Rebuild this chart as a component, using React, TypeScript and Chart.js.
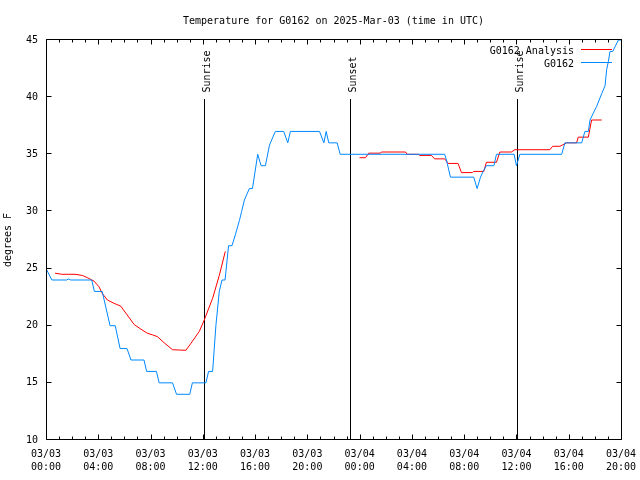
import React, { useEffect, useRef } from 'react';
import { Chart, registerables } from 'chart.js';

Chart.register(...registerables);

// ---------- data ----------
const TITLE = 'Temperature for G0162 on 2025-Mar-03 (time in UTC)';
const Y_LABEL = 'degrees F';
const START_MONTH = '03';
const START_DAY = 3;
const X_MIN = 0;
const X_MAX = 44; // hours after 03/03 00:00 UTC
const X_MAJOR_STEP = 4;
const X_MINOR_STEP = 1;
const Y_MIN = 10;
const Y_MAX = 45;
const Y_STEP = 5;

const anaLabel = 'G0162 Analysis';
const anaColor = '#ff0000';
const anaHours = [
  0.69, 1.2, 2.22, 2.78, 3.17, 3.68, 4.06, 4.32, 4.7, 5.21, 5.73, 6.11, 6.75, 7.26, 7.77,
  8.15, 8.53, 9.05, 9.68, 10.2, 10.71, 11.09, 11.73, 12.11, 12.75, 13.26, 13.72,
  18.0,
  23.99, 24.45, 24.7, 25.6, 25.66, 27.52, 27.62, 28.5, 28.59, 29.49, 29.74, 30.51, 30.77,
  31.53, 31.79, 32.63, 32.73, 33.5, 33.7, 34.47, 34.73, 35.62, 35.88, 38.56, 38.77, 39.33,
  39.84, 40.6, 40.73, 41.5, 41.75, 42.52,
];
const anaTemps = [
  24.6, 24.5, 24.5, 24.4, 24.2, 23.9, 23.4, 22.8, 22.25, 21.96, 21.7, 21.1, 20.1, 19.7, 19.33,
  19.2, 19.04, 18.5, 17.9, 17.87, 17.85, 18.46, 19.5, 20.5, 22.4, 24.4, 26.5,
  null,
  34.7, 34.7, 35.1, 35.1, 35.2, 35.2, 35.0, 35.0, 34.9, 34.9, 34.6, 34.6, 34.2,
  34.2, 33.4, 33.4, 33.5, 33.5, 34.3, 34.3, 35.2, 35.2, 35.4, 35.4, 35.7, 35.7,
  36.0, 36.0, 36.5, 36.5, 38.0, 38.0,
];

const obsLabel = 'G0162';
const obsColor = '#0088ff';
const obsHours = [
  0, 0.45, 1.6, 1.7, 1.9, 3.5, 3.7, 4.3, 4.9, 5.3, 5.67, 6.2, 6.5, 7.5, 7.7, 8.45, 8.66,
  9.68, 9.99, 11.0, 11.2, 12.24, 12.44, 12.75, 13.0, 13.26, 13.47, 13.7, 13.97, 14.23,
  14.5, 14.8, 14.97, 15.18, 15.56, 15.8, 16.2, 16.46, 16.79, 17.1, 17.55, 18.19, 18.5,
  18.7, 20.93, 21.26, 21.44, 21.64, 22.28, 22.51, 30.51, 30.64, 30.95, 32.73, 32.99,
  33.25, 33.45, 33.7, 34.27, 34.47, 35.82, 36.0, 36.26, 39.46, 39.71, 40.99, 41.24, 41.5,
  41.63, 41.88, 42.14, 42.52, 42.78, 42.9, 43.03, 43.16, 43.37, 43.54, 43.8, 44,
];
const obsTemps = [
  25, 24, 24, 24.1, 24, 24, 23, 23, 20, 20, 18, 18, 17, 17, 16, 16, 15,
  15, 14, 14, 15, 15, 16, 16, 20, 23, 24, 24, 27, 27,
  28, 29.2, 30, 31, 32, 32, 35, 34, 34, 35.8, 37, 37, 36,
  37, 37, 36, 37, 36, 36, 35, 35, 34.5, 33, 33, 32,
  33, 33.5, 34, 34, 35, 35, 34, 35, 35, 36, 36, 37, 37,
  38, 38.6, 39.2, 40.3, 41, 42.4, 43.1, 44, 44, 44.4, 45, 45,
];

const sunHours = [12.06, 23.25, 36.05];
const sunLabels = ['Sunrise', 'Sunset', 'Sunrise'];

// ---------- styling ----------
const FONT_FAMILY = '"DejaVu Sans Mono", "Liberation Mono", monospace';
const FONT = `10px ${FONT_FAMILY}`;

const pad2 = (n: number) => (n < 10 ? '0' + n : '' + n);

const gnuplotPlugin = {
  id: 'gnuplotDecor',
  beforeDraw(chart: any) {
    const ctx = chart.ctx;
    ctx.save();
    ctx.fillStyle = '#ffffff';
    ctx.fillRect(0, 0, chart.width, chart.height);
    ctx.restore();
  },
  beforeDatasetsDraw(chart: any) {
    const ctx = chart.ctx;
    const xs = chart.scales.x;
    const area = chart.chartArea;
    ctx.save();
    ctx.strokeStyle = '#000';
    ctx.lineWidth = 1;
    sunHours.forEach((h) => {
      const px = Math.round(xs.getPixelForValue(h)) + 0.5;
      ctx.beginPath();
      ctx.moveTo(px, 99);
      ctx.lineTo(px, area.bottom);
      ctx.stroke();
    });
    ctx.restore();
  },
  afterDatasetsDraw(chart: any) {
    const ctx = chart.ctx;
    const xs = chart.scales.x;
    const ys = chart.scales.y;
    const a = chart.chartArea;
    const L = Math.round(a.left) + 0.5;
    const R = Math.round(a.right) + 0.5;
    const T = Math.round(a.top) - 0.5;
    const B = Math.round(a.bottom) - 0.5;
    ctx.save();
    ctx.strokeStyle = '#000';
    ctx.lineWidth = 1;
    ctx.beginPath();
    ctx.moveTo(L, T);
    ctx.lineTo(R, T);
    ctx.lineTo(R, B);
    ctx.lineTo(L, B);
    ctx.closePath();
    ctx.stroke();
    ctx.beginPath();
    for (let h = X_MIN; h <= X_MAX; h += X_MINOR_STEP) {
      const px = Math.round(xs.getPixelForValue(h)) + 0.5;
      const len = h % X_MAJOR_STEP === 0 ? 5 : 3;
      ctx.moveTo(px, B);
      ctx.lineTo(px, B - len);
      ctx.moveTo(px, T);
      ctx.lineTo(px, T + len);
    }
    for (let v = Y_MIN; v <= Y_MAX; v += Y_STEP) {
      const py = Math.round(ys.getPixelForValue(v)) - 0.5;
      ctx.moveTo(L, py);
      ctx.lineTo(L + 5, py);
      ctx.moveTo(R, py);
      ctx.lineTo(R - 5, py);
    }
    ctx.stroke();

    ctx.fillStyle = '#000';
    ctx.font = FONT;
    ctx.textAlign = 'center';
    ctx.textBaseline = 'alphabetic';
    ctx.fillText(TITLE, (a.left + a.right) / 2, 24);
    ctx.save();
    ctx.translate(11, (a.top + a.bottom) / 2);
    ctx.rotate(-Math.PI / 2);
    ctx.textAlign = 'center';
    ctx.textBaseline = 'alphabetic';
    ctx.fillText(Y_LABEL, 0, 0);
    ctx.restore();
    sunHours.forEach((h, i) => {
      const px = Math.round(xs.getPixelForValue(h)) + 0.5;
      ctx.save();
      ctx.translate(px + 5.5, 92.5);
      ctx.rotate(-Math.PI / 2);
      ctx.textAlign = 'left';
      ctx.textBaseline = 'alphabetic';
      ctx.fillText(sunLabels[i], 0, 0);
      ctx.restore();
    });
    const items = chart.data.datasets.map((d: any) => ({ label: d.label, color: d.borderColor }));
    items.sort((p: any, q: any) => (p.label === anaLabel ? -1 : q.label === anaLabel ? 1 : 0));
    items.forEach((it: any, i: number) => {
      const base = 53.5 + i * 13;
      ctx.textAlign = 'right';
      ctx.textBaseline = 'alphabetic';
      ctx.fillStyle = '#000';
      ctx.fillText(it.label, 574, base);
      ctx.strokeStyle = it.color;
      ctx.beginPath();
      ctx.moveTo(581, base - 4);
      ctx.lineTo(612, base - 4);
      ctx.stroke();
    });
    ctx.restore();
  },
};

export default function App() {
  const canvasRef = useRef<HTMLCanvasElement | null>(null);

  useEffect(() => {
    const canvas = canvasRef.current;
    if (!canvas) return;
    const obsData = obsHours.map((h, i) => ({ x: h, y: obsTemps[i] }));
    const anaData = anaHours.map((h, i) => ({ x: h, y: anaTemps[i] }));
    const chart = new Chart(canvas, {
      type: 'line',
      data: {
        datasets: [
          {
            label: obsLabel,
            data: obsData as any,
            borderColor: obsColor,
            backgroundColor: obsColor,
            borderWidth: 1,
            pointRadius: 0,
            tension: 0,
            order: 0,
          },
          {
            label: anaLabel,
            data: anaData as any,
            borderColor: anaColor,
            backgroundColor: anaColor,
            borderWidth: 1,
            pointRadius: 0,
            tension: 0,
            spanGaps: false,
            order: 1,
          },
        ],
      },
      options: {
        responsive: false,
        animation: false,
        devicePixelRatio: 1,
        layout: { padding: { left: 0, top: 40, right: 19, bottom: 0 } },
        plugins: {
          legend: { display: false },
          title: { display: false },
          tooltip: { enabled: false },
        },
        scales: {
          x: {
            type: 'linear',
            min: X_MIN,
            max: X_MAX,
            grid: { display: false, drawTicks: false },
            border: { display: false },
            afterFit: (s: any) => {
              s.height = 40;
              s.paddingLeft = 0;
              s.paddingRight = 0;
            },
            afterBuildTicks: (s: any) => {
              const t = [];
              for (let h = X_MIN; h <= X_MAX; h += X_MAJOR_STEP) t.push({ value: h });
              s.ticks = t;
            },
            ticks: {
              color: '#000',
              padding: 8,
              maxRotation: 0,
              autoSkip: false,
              font: { family: FONT_FAMILY, size: 10, lineHeight: 1.27 },
              callback: (v: any) => {
                const h = Number(v);
                const day = START_DAY + Math.floor(h / 24);
                const hh = h % 24;
                return [`${START_MONTH}/${pad2(day)}`, `${pad2(hh)}:00`];
              },
            },
          },
          y: {
            type: 'linear',
            min: Y_MIN,
            max: Y_MAX,
            grid: { display: false, drawTicks: false },
            border: { display: false },
            afterFit: (s: any) => {
              s.width = 46;
              s.paddingTop = 0;
              s.paddingBottom = 0;
            },
            ticks: {
              color: '#000',
              padding: 8,
              stepSize: Y_STEP,
              font: { family: FONT_FAMILY, size: 10 },
            },
          },
        },
      },
      plugins: [gnuplotPlugin],
    });
    return () => chart.destroy();
  }, []);

  return (
    <div style={{ position: 'fixed', left: 0, top: 0, width: 640, height: 480, background: '#fff' }}>
      <canvas ref={canvasRef} width={640} height={480} style={{ display: 'block' }} />
    </div>
  );
}
